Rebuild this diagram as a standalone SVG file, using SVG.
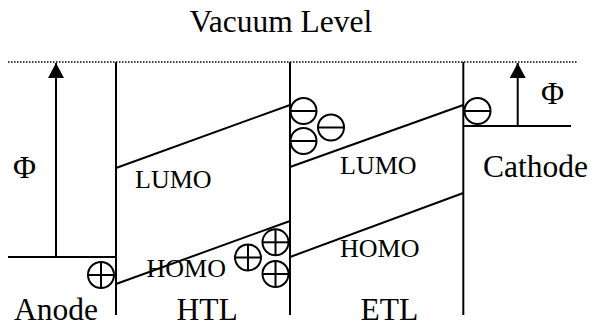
<svg xmlns="http://www.w3.org/2000/svg" width="591" height="327" viewBox="0 0 591 327">
<style>
.ln{stroke:#000;stroke-width:2;fill:none}
.dot{stroke:#000;stroke-width:1.6;stroke-dasharray:1.5 1.5;fill:none}
.c{stroke:#000;stroke-width:2;fill:#fff}
.big{font-family:"Liberation Serif","Times New Roman",serif;font-size:31.5px;fill:#000}
.sm{font-family:"Liberation Serif","Times New Roman",serif;font-size:26px;fill:#000}
</style>
<defs>
<marker id="ah" markerWidth="16" markerHeight="16" refX="15" refY="8" orient="auto" markerUnits="userSpaceOnUse">
<path d="M0,0 L15,8 L0,16 Z" fill="#000"/>
</marker>
<g id="minus"><circle class="c" cx="0" cy="0" r="13"/><line class="ln" x1="-13" y1="0" x2="13" y2="0"/></g>
<g id="plus"><circle class="c" cx="0" cy="0" r="13"/><line class="ln" x1="-13" y1="0" x2="13" y2="0"/><line class="ln" x1="0" y1="-13" x2="0" y2="13"/></g>
</defs>
<rect width="591" height="327" fill="#fff"/>
<g id="vacuum">
<line class="dot" x1="8" y1="62" x2="578" y2="62"/>
<text class="big" x="189.5" y="31.7">Vacuum Level</text>
</g>
<g id="connectors">
<line class="ln" x1="116" y1="62" x2="116" y2="315"/>
<line class="ln" x1="290" y1="62" x2="290" y2="315"/>
<line class="ln" x1="463.3" y1="62" x2="463.3" y2="315"/>
<line class="ln" x1="8" y1="257" x2="116" y2="257"/>
<line class="ln" x1="56" y1="257" x2="56" y2="63" marker-end="url(#ah)"/>
<line class="ln" x1="463.3" y1="126" x2="571" y2="126"/>
<line class="ln" x1="517.7" y1="126" x2="517.7" y2="63" marker-end="url(#ah)"/>
<line class="ln" x1="116" y1="168" x2="290" y2="105"/>
<line class="ln" x1="116" y1="284" x2="290" y2="221"/>
<line class="ln" x1="290" y1="167" x2="463.3" y2="105"/>
<line class="ln" x1="290" y1="257" x2="463.3" y2="193"/>
</g>
<g id="anode">
<text class="big" x="14" y="320">Anode</text>
<text class="big" x="13" y="178">Φ</text>
<use href="#plus" x="101" y="275"/>
</g>
<g id="htl">
<text class="big" x="176.5" y="320">HTL</text>
<text class="sm" x="135" y="188">LUMO</text>
<text class="sm" x="146.5" y="277">HOMO</text>
<use href="#plus" x="248" y="257.5"/>
<use href="#plus" x="275.5" y="242.3"/>
<use href="#plus" x="275.5" y="274"/>
</g>
<g id="etl">
<text class="big" x="360.5" y="320">ETL</text>
<text class="sm" x="340" y="174">LUMO</text>
<text class="sm" x="340" y="257">HOMO</text>
<use href="#minus" x="303.5" y="111"/>
<use href="#minus" x="303.5" y="141"/>
<use href="#minus" x="331" y="127.5"/>
</g>
<g id="cathode">
<text class="big" x="483" y="177">Cathode</text>
<text class="big" x="541" y="104">Φ</text>
<use href="#minus" x="477.5" y="111"/>
</g>
</svg>
